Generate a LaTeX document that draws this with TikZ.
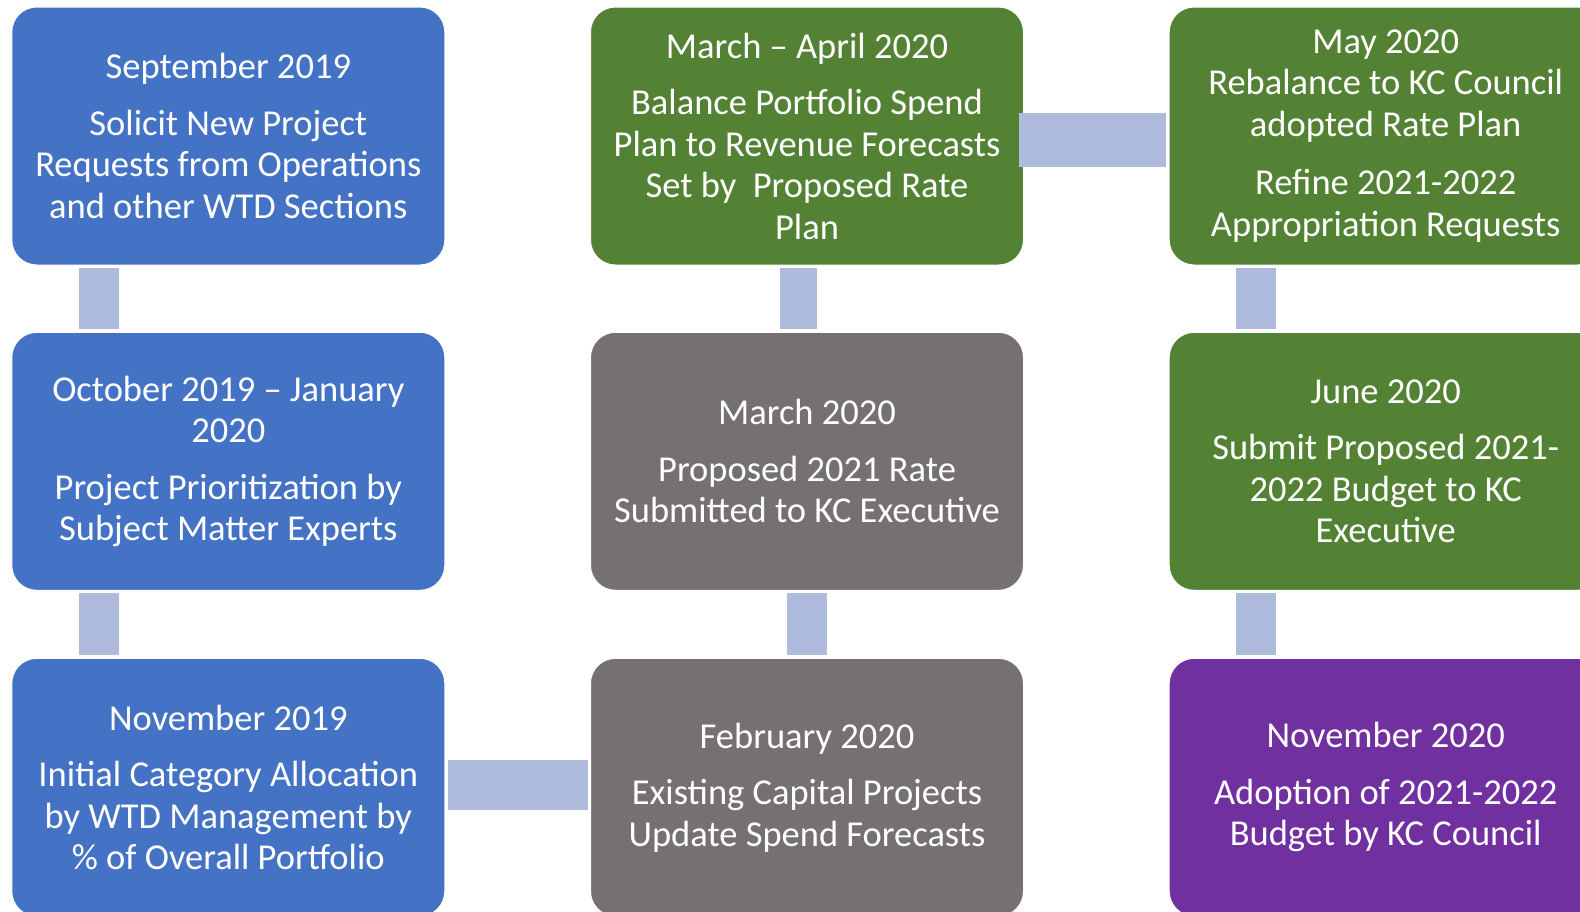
\documentclass[tikz,border=0pt]{standalone}
\usepackage{fontspec}
\setmainfont{Carlito}
\definecolor{stageblue}{HTML}{4472C4}
\definecolor{stagegreen}{HTML}{548235}
\definecolor{stagegray}{HTML}{767171}
\definecolor{stagepurple}{HTML}{7030A0}
\definecolor{linkblue}{HTML}{AFBBDD}
\tikzset{
	stage/.style={rectangle, rounded corners=25pt, draw=white, line width=1pt, text=white,
		minimum width=433pt, minimum height=258pt, inner sep=0pt, align=center,
		font=\fontsize{36.5}{41.5}\selectfont},
	link/.style={draw=linkblue, line width=40pt, shorten <=2.5pt, shorten >=2.5pt}
}
\begin{document}
\begin{tikzpicture}[x=1pt,y=-1pt]
				\useasboundingbox (0,0) rectangle (1580,911);
				\node[stage,fill=stageblue] (sep19) at (228.3,136) {September 2019\\[15pt]Solicit New Project\\Requests from Operations\\and other WTD Sections};
				\node[stage,fill=stageblue] (octjan) at (228.3,461.3) {October 2019 -- January\\2020\\[15pt]Project Prioritization by\\Subject Matter Experts};
				\node[stage,fill=stageblue] (nov19) at (228.3,787.3) {November 2019\\[15pt]Initial Category Allocation\\by WTD Management by\\\% of Overall Portfolio};
				\node[stage,fill=stagegray] (feb20) at (807,787.3) {February 2020\\[15pt]Existing Capital Projects\\Update Spend Forecasts};
				\node[stage,fill=stagegray] (mar20) at (807,461.3) {March 2020\\[15pt]Proposed 2021 Rate\\Submitted to KC Executive};
				\node[stage,fill=stagegreen] (marapr) at (807,136) {March -- April 2020\\[15pt]Balance Portfolio Spend\\Plan to Revenue Forecasts\\Set by~ Proposed Rate\\Plan};
				\node[stage,fill=stagegreen] (may20) at (1385.7,136) {May 2020\\Rebalance to KC Council\\adopted Rate Plan\\[17pt]Refine 2021-2022\\Appropriation Requests};
				\node[stage,fill=stagegreen] (jun20) at (1385.7,461.3) {June 2020\\[15pt]Submit Proposed 2021-\\2022 Budget to KC\\Executive};
				\node[stage,fill=stagepurple] (nov20) at (1385.7,787.3) {November 2020\\[15pt]Adoption of 2021-2022\\Budget by KC Council};
				\draw[link] ([xshift=-129pt]sep19.south) -- ([xshift=-129pt]octjan.north);
				\draw[link] ([xshift=-129pt]octjan.south) -- ([xshift=-129pt]nov19.north);
				\draw[link,line width=50pt] ([yshift=2.5pt]nov19.east) -- ([yshift=2.5pt]feb20.west);
				\draw[link] (feb20.north) -- (mar20.south);
				\draw[link,line width=37pt] ([xshift=-8.5pt]mar20.north) -- ([xshift=-8.5pt]marapr.south);
				\draw[link,line width=54pt,shorten <=-5.5pt] ([yshift=-4pt]marapr.east) -- ([yshift=-4pt]may20.west);
				\draw[link] ([xshift=-129.5pt]may20.south) -- ([xshift=-129.5pt]jun20.north);
				\draw[link] ([xshift=-129.5pt]jun20.south) -- ([xshift=-129.5pt]nov20.north);
			\end{tikzpicture}
\end{document}
